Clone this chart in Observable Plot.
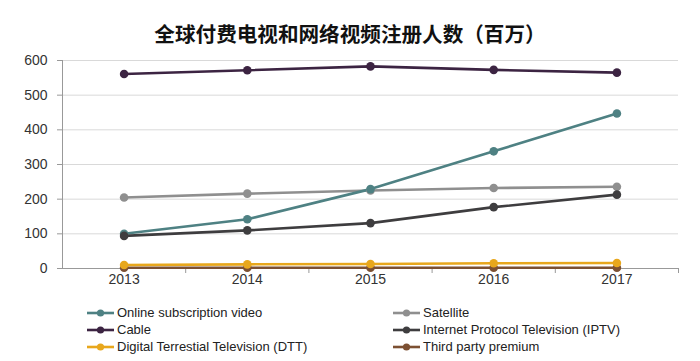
<!DOCTYPE html>
<html>
<head>
<meta charset="utf-8">
<script src="https://cdn.jsdelivr.net/npm/d3@7"></script>
<script src="https://cdn.jsdelivr.net/npm/@observablehq/plot@0.6"></script>
<style>
  html, body { margin: 0; padding: 0; background: #fff; }
  body { width: 700px; height: 361px; overflow: hidden; font-family: "Liberation Sans", Arial, sans-serif; }
  #title { height: 50px; box-sizing: border-box; padding-top: 23px; text-align: center;
           font-family: "Noto Sans CJK SC", sans-serif; font-weight: 700; font-size: 20.6px; line-height: 20px; color: #111; }
  #chart svg { display: block; }
  #legend { position: relative; height: 57px; font-size: 13px; color: #222; }
  .item { position: absolute; height: 17px; line-height: 17px; display: flex; align-items: center; white-space: nowrap; }
  .item svg { margin-right: 3px; }
</style>
</head>
<body>
<div id="title">全球付费电视和网络视频注册人数（百万）</div>
<div id="chart"></div>
<div id="legend"></div>
<script>
const years = [2013, 2014, 2015, 2016, 2017];
const seriesNames = ["Online subscription video", "Satellite", "Cable", "Internet Protocol Television (IPTV)", "Digital Terrestial Television (DTT)", "Third party premium"];
const seriesColors = ["#4e8183", "#8f8f8f", "#3c2442", "#3e3d3f", "#e8a71c", "#7c5032"];
const online = [100, 142, 229, 338, 447];
const satellite = [205, 216, 225, 232, 236];
const cable = [561, 572, 583, 573, 565];
const iptv = [94, 110, 131, 177, 213];
const dtt = [10, 12, 13, 15, 16];
const thirdParty = [2, 2, 2, 2, 2];
const yTicks = [0, 100, 200, 300, 400, 500, 600];
const bandEdges = [2013.5, 2014.5, 2015.5, 2016.5, 2017.5];

const valuesBySeries = [online, satellite, cable, iptv, dtt, thirdParty];
// drawing order (bottom to top)
const drawOrder = [5, 4, 1, 2, 0, 3];
const data = [];
for (const si of drawOrder) {
  years.forEach((yr, i) => data.push({series: seriesNames[si], year: yr, value: valuesBySeries[si][i]}));
}

const plot = Plot.plot({
  width: 700,
  height: 254,
  marginTop: 10,
  marginBottom: 36,
  marginLeft: 62,
  marginRight: 22,
  style: {fontFamily: '"Liberation Sans", Arial, sans-serif', fontSize: "14px", color: "#333", background: "#fff"},
  x: {domain: [2012.5, 2017.5], axis: null},
  y: {domain: [0, 600], axis: null},
  color: {domain: seriesNames, range: seriesColors},
  marks: [
    Plot.gridY(yTicks, {stroke: "#d9d9d9", strokeOpacity: 1, strokeWidth: 1}),
    Plot.axisY(yTicks, {tickSize: 5, tickPadding: 10, stroke: "#999", fill: "#333", fontSize: 14, tickFormat: d => d, label: null}),
    Plot.axisX(years, {tickSize: 0, tickPadding: 6, fill: "#333", fontSize: 14, tickFormat: d => String(d), label: null}),
    Plot.axisX(bandEdges, {tickSize: 5, stroke: "#999", tickFormat: () => "", label: null}),
    Plot.ruleY([0], {stroke: "#999", strokeWidth: 1}),
    Plot.ruleX([2012.5], {stroke: "#999", strokeWidth: 1}),
    Plot.line(data, {x: "year", y: "value", z: "series", stroke: "series", strokeWidth: 2.6}),
    Plot.dot(data, {x: "year", y: "value", fill: "series", r: 4.3, stroke: "none"})
  ]
});
document.getElementById("chart").appendChild(plot);

// legend
const legend = document.getElementById("legend");
const pos = [[87, 0], [393, 0], [87, 17], [393, 17], [87, 34], [393, 34]];
seriesNames.forEach((name, i) => {
  const div = document.createElement("div");
  div.className = "item";
  div.style.left = pos[i][0] + "px";
  div.style.top = (pos[i][1]) + "px";
  div.innerHTML = `<svg width="27" height="10"><line x1="0" x2="27" y1="5" y2="5" stroke="${seriesColors[i]}" stroke-width="2.6"/><circle cx="13.5" cy="5" r="3.6" fill="${seriesColors[i]}"/></svg><span>${name}</span>`;
  legend.appendChild(div);
});
</script>
</body>
</html>
